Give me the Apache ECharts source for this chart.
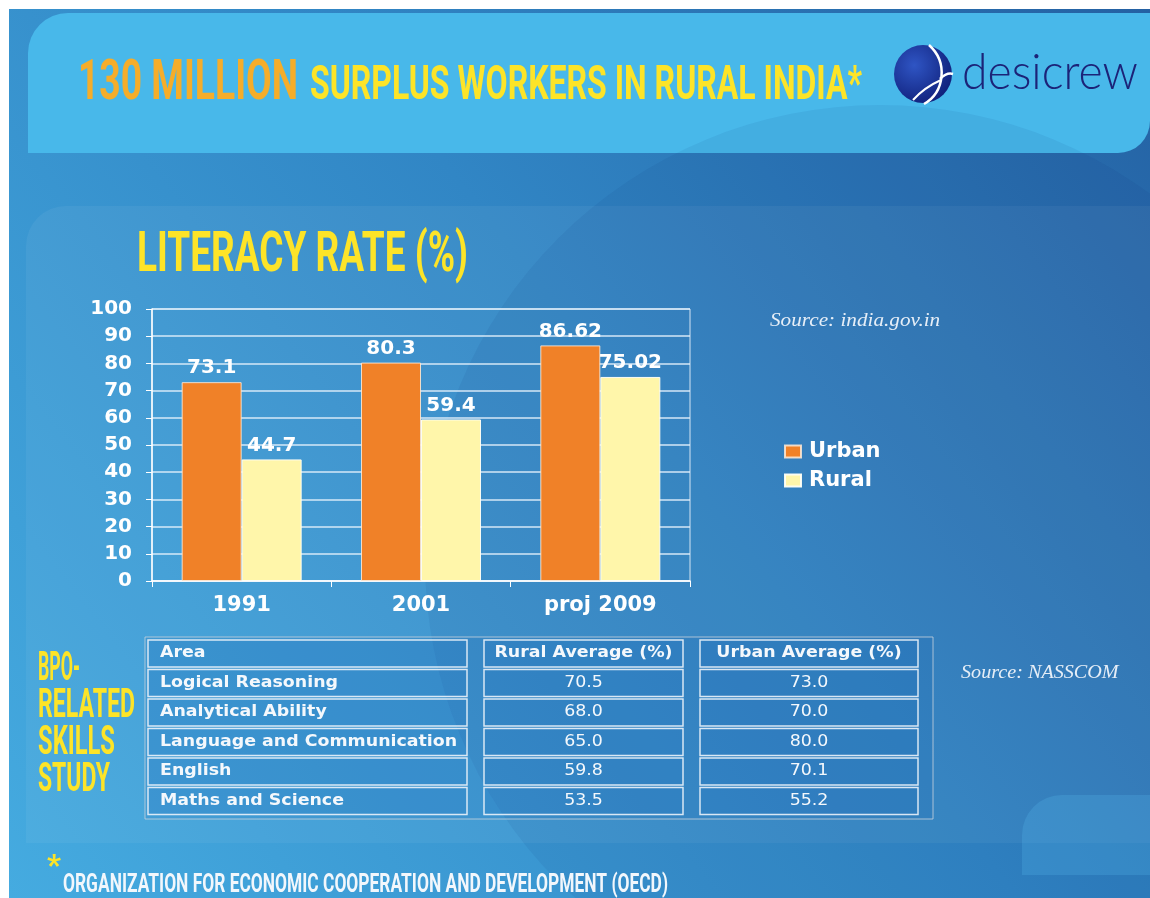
<!DOCTYPE html>
<html>
<head>
<meta charset="utf-8">
<script src="https://cdn.jsdelivr.net/npm/echarts@6/dist/echarts.min.js"></script>
<style>
html, body { margin: 0; padding: 0; background: #fff; }
#main { width: 1150px; height: 898px; }
</style>
</head>
<body>
<div id="main"></div>
<script>
// literacy rate chart
var categories = ['1991', '2001', 'proj 2009'];
var urban = [73.1, 80.3, 86.62];
var rural = [44.7, 59.4, 75.02];

// BPO skills study table
var tableHead = ['Area', 'Rural Average (%)', 'Urban Average (%)'];
var areas = ['Logical Reasoning', 'Analytical Ability', 'Language and Communication', 'English', 'Maths and Science'];
var ruralAvg = ['70.5', '68.0', '65.0', '59.8', '53.5'];
var urbanAvg = ['73.0', '70.0', '80.0', '70.1', '55.2'];

var myChart = echarts.init(document.getElementById('main'));

var ctx = document.createElement('canvas').getContext('2d');
// squeeze / stretch a text so that it spans w pixels
function fitText(text, x, y, w, size, family, weight, color, extra) {
	ctx.font = weight + ' ' + size + 'px ' + family;
	var sx = w / ctx.measureText(text).width;
	var el = {
		type: 'text', z: 10, x: x, y: y, scaleX: sx,
		style: { text: text, x: 0, y: 0, fill: color, fontSize: size, fontFamily: family, fontWeight: weight, verticalAlign: 'middle' }
	};
	if (extra) for (var k in extra) el.style[k] = extra[k];
	return el;
}

var cond = 'Roboto';
var g = [];
// slide background
g.push({ type: 'rect', z: -10, shape: { x: 9, y: 9, width: 1141, height: 889 },
	style: { fill: new echarts.graphic.LinearGradient(0, 1, 1, 0, [
		{ offset: 0, color: '#45abe0' }, { offset: 0.55, color: '#3186c5' }, { offset: 1, color: '#2461a3' }]) } });
g.push({ type: 'rect', z: -9, shape: { x: 26, y: 206, width: 1124, height: 637, r: [40, 0, 0, 0] },
	style: { fill: 'rgba(255,255,255,0.05)' } });
g.push({ type: 'rect', z: -8, shape: { x: 28, y: 13, width: 1122, height: 140, r: [40, 0, 32, 0] },
	style: { fill: '#48b8ea' } });
g.push({ type: 'circle', z: -7, shape: { cx: 880, cy: 560, r: 455 },
	style: { fill: 'rgba(10,45,120,0.07)' } });
g.push({ type: 'rect', z: -6, shape: { x: 1022, y: 795, width: 140, height: 80, r: [40, 0, 0, 0] },
	style: { fill: 'rgba(90,190,240,0.22)' } });

// titles
g.push(fitText('130 MILLION', 78, 85, 220, 56, cond, 'bold', '#f5ad2a'));
g.push(fitText('SURPLUS WORKERS IN RURAL INDIA*', 310, 87, 552, 49, cond, 'bold', '#fde428'));
g.push(fitText('LITERACY RATE (%)', 137, 257, 331, 56, cond, 'bold', '#fde428'));
var bpo = ['BPO-', 'RELATED', 'SKILLS', 'STUDY'];
var bpoW = [42, 97, 77, 72];
for (var i = 0; i < bpo.length; i++) {
	g.push(fitText(bpo[i], 38, 670 + i * 37, bpoW[i], 40, cond, 'bold', '#fde428'));
}
g.push(fitText('*', 47, 867, 14, 30, cond, 'bold', '#fde428'));
g.push(fitText('ORGANIZATION FOR ECONOMIC COOPERATION AND DEVELOPMENT (OECD)', 63, 886, 605, 25, cond, 'bold', '#f2f7fc'));

// logo
g.push({ type: 'circle', z: 10, shape: { cx: 923, cy: 74, r: 29 },
	style: { fill: new echarts.graphic.RadialGradient(0.35, 0.35, 0.8, [
		{ offset: 0, color: '#2f55c4' }, { offset: 1, color: '#0c1a72' }]) } });
g.push({ type: 'bezierCurve', z: 11, shape: { x1: 929, y1: 45, cpx1: 948, cpy1: 62, cpx2: 945, cpy2: 92, x2: 924, y2: 104 },
	style: { stroke: '#ffffff', lineWidth: 2.5, fill: null } });
g.push({ type: 'bezierCurve', z: 11, shape: { x1: 940, y1: 79, cpx1: 945, cpy1: 74, cpx2: 950, cpy2: 73, x2: 953, y2: 74 },
	style: { stroke: '#ffffff', lineWidth: 2.5, fill: null } });
g.push({ type: 'bezierCurve', z: 11, shape: { x1: 941, y1: 80, cpx1: 932, cpy1: 84, cpx2: 922, cpy2: 90, x2: 913, y2: 100 },
	style: { stroke: '#ffffff', lineWidth: 2, fill: null } });
g.push(fitText('desicrew', 962, 73, 176, 50, 'Lato', '300', '#1c2378'));

// sources
g.push(fitText('Source: india.gov.in', 770, 321, 170, 18, 'Liberation Serif', 'normal', '#e6eef7', { fontStyle: 'italic' }));
g.push(fitText('Source: NASSCOM', 961, 673, 164, 18, 'Liberation Serif', 'normal', '#e6eef7', { fontStyle: 'italic' }));

// table
var cols = [{ x: 148, w: 319 }, { x: 484, w: 199 }, { x: 700, w: 218 }];
var rowTop = 640, rowStep = 29.5, boxH = 27;
var tf = 'DejaVu Sans', tsx = 1.16;
g.push({ type: 'rect', z: 5, shape: { x: 145, y: 637, width: 788, height: 182 },
	style: { fill: 'rgba(20,90,170,0.12)', stroke: 'rgba(200,210,220,0.8)', lineWidth: 1 } });
function cellText(text, c, r, bold) {
	var left = c === 0;
	return {
		type: 'text', z: 10, scaleX: tsx,
		x: left ? cols[c].x + 12 : cols[c].x + cols[c].w / 2,
		y: rowTop + r * rowStep + boxH / 2,
		style: { text: text, x: 0, y: 0, fill: '#f4f8fc', fontSize: 15, fontFamily: tf, fontWeight: bold ? 'bold' : 'normal',
			align: left ? 'left' : 'center', verticalAlign: 'middle' }
	};
}
for (var r = 0; r <= areas.length; r++) {
	for (var c = 0; c < cols.length; c++) {
		g.push({ type: 'rect', z: 6, shape: { x: cols[c].x, y: rowTop + r * rowStep, width: cols[c].w, height: boxH },
			style: { fill: 'rgba(30,110,190,0.15)', stroke: 'rgba(235,242,250,0.9)', lineWidth: 1.5 } });
	}
	if (r === 0) {
		for (var c = 0; c < cols.length; c++) g.push(cellText(tableHead[c], c, 0, true));
	} else {
		g.push(cellText(areas[r - 1], 0, r, true));
		g.push(cellText(ruralAvg[r - 1], 1, r, false));
		g.push(cellText(urbanAvg[r - 1], 2, r, false));
	}
}

var lab = { color: '#ffffff', fontFamily: 'DejaVu Sans', fontWeight: 'bold', fontSize: 20 };

option = {
	animation: false,
	graphic: { elements: g },
	legend: {
		data: ['Urban', 'Rural'],
		orient: 'vertical',
		left: 779, top: 436,
		itemWidth: 16, itemHeight: 12, itemGap: 8,
		icon: 'rect',
		textStyle: { color: '#ffffff', fontFamily: 'DejaVu Sans', fontWeight: 'bold', fontSize: 21, padding: [0, 0, 0, 3] }
	},
	grid: {
		left: 152, top: 309, width: 538, height: 272,
		show: true, borderColor: 'rgba(230,240,250,0.9)', borderWidth: 1
	},
	xAxis: {
		type: 'category',
		data: categories,
		axisLine: { lineStyle: { color: '#ffffff', width: 1.5 } },
		axisTick: { show: true, length: 6, lineStyle: { color: '#ffffff' } },
		axisLabel: { color: '#ffffff', fontFamily: 'DejaVu Sans', fontWeight: 'bold', fontSize: 21, margin: 14 }
	},
	yAxis: {
		type: 'value',
		min: 0, max: 100, interval: 10,
		axisLine: { show: true, lineStyle: { color: '#ffffff', width: 1.5 } },
		axisTick: { show: true, length: 6, lineStyle: { color: '#ffffff' } },
		splitLine: { lineStyle: { color: 'rgba(230,242,252,0.9)', width: 1.5 } },
		axisLabel: { color: '#ffffff', fontFamily: 'DejaVu Sans', fontWeight: 'bold', fontSize: 20, margin: 20 }
	},
	series: [
		{
			name: 'Urban', type: 'bar', data: urban,
			barWidth: 60, barGap: '0%',
			itemStyle: { color: '#f08128', borderColor: 'rgba(255,235,215,0.85)', borderWidth: 1 },
			label: Object.assign({ show: true, position: 'top', distance: 4 }, lab)
		},
		{
			name: 'Rural', type: 'bar', data: rural,
			barWidth: 60,
			itemStyle: { color: '#fff6aa', borderColor: 'rgba(255,255,245,0.95)', borderWidth: 1 },
			label: Object.assign({ show: true, position: 'top', distance: 4 }, lab)
		}
	]
};

myChart.setOption(option);
</script>
</body>
</html>
